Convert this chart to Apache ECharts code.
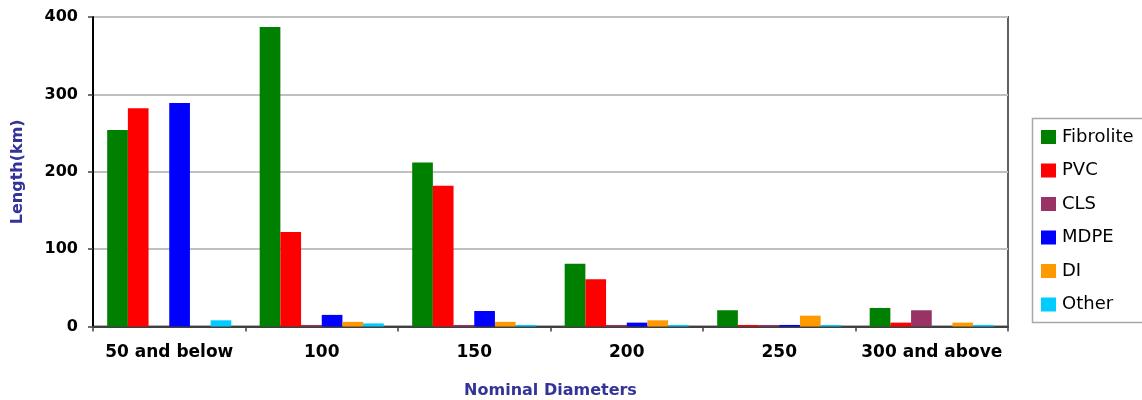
<!DOCTYPE html>
<html>
<head>
<meta charset="utf-8">
<script src="https://cdn.jsdelivr.net/npm/echarts@6/dist/echarts.min.js"></script>
<style>
html,body{margin:0;padding:0;background:#fff;}
#chart{width:1142px;height:400px;}
</style>
</head>
<body>
<div id="chart"></div>
<script>
const categories = ['50 and below', '100', '150', '200', '250', '300 and above'];
const seriesNames = ['Fibrolite', 'PVC', 'CLS', 'MDPE', 'DI', 'Other'];
const fibrolite = [254, 387, 212, 81, 21, 24];
const pvc = [282, 122, 182, 61, 2, 5];
const cls = [0, 2, 2, 2, 2, 21];
const mdpe = [289, 15, 20, 5, 2, 0];
const di = [0, 6, 6, 8, 14, 5];
const other = [8, 4, 2, 2, 2, 2];
const yTicks = { min: 0, max: 400, interval: 100 };
const colors = ['#008000', '#FF0000', '#993366', '#0000FF', '#FF9900', '#00CCFF'];

const values = [fibrolite, pvc, cls, mdpe, di, other];
const FONT = '"DejaVu Sans", sans-serif';

const chart = echarts.init(document.getElementById('chart'), null, { renderer: 'canvas' });
chart.setOption({
  animation: false,
  backgroundColor: '#ffffff',
  color: colors,
  grid: {
    left: 93, right: 134, top: 17, bottom: 73.5,
    containLabel: false,
    outerBoundsMode: 'none',
    show: true, borderColor: '#606060', borderWidth: 2, backgroundColor: 'transparent'
  },
  graphic: [{
    type: 'rect',
    shape: { x: 1032.5, y: 118.5, width: 130, height: 204 },
    style: { fill: '#ffffff', stroke: '#a8a8a8', lineWidth: 1.5 },
    z: 0
  }],
  legend: {
    orient: 'vertical',
    left: 1041, top: 128,
    padding: 0,
    itemWidth: 15, itemHeight: 14, itemGap: 15.5,
    icon: 'rect',
    data: seriesNames,
    textStyle: { fontFamily: FONT, fontSize: 18, color: '#000', padding: [0, 0, 0, 1] },
    z: 5
  },
  xAxis: {
    type: 'category',
    data: categories,
    name: 'Nominal Diameters',
    nameLocation: 'middle',
    nameGap: 56,
    nameTextStyle: { fontFamily: FONT, fontSize: 16, fontWeight: 'bold', color: '#333399' },
    axisLine: { lineStyle: { color: '#404040', width: 2 } },
    axisTick: { show: true, alignWithLabel: false, length: 5, lineStyle: { color: '#404040', width: 1.5 } },
    axisLabel: { fontFamily: FONT, fontSize: 17, fontWeight: 'bold', color: '#000', margin: 18, interval: 0 },
    splitLine: { show: false }
  },
  yAxis: {
    type: 'value',
    min: yTicks.min, max: yTicks.max, interval: yTicks.interval,
    name: 'Length(km)',
    nameLocation: 'middle',
    nameGap: 67,
    nameRotate: 90,
    nameTextStyle: { fontFamily: FONT, fontSize: 16, fontWeight: 'bold', color: '#333399' },
    axisLine: { show: true, lineStyle: { color: '#000', width: 2 } },
    axisTick: { show: true, length: 5, lineStyle: { color: '#404040', width: 1.5 } },
    axisLabel: { fontFamily: FONT, fontSize: 16, fontWeight: 'bold', color: '#000', margin: 15 },
    splitLine: { show: true, lineStyle: { color: '#c0c0c0', width: 2 } }
  },
  series: seriesNames.map((name, i) => ({
    name: name,
    type: 'bar',
    data: values[i],
    barGap: '0%',
    barCategoryGap: '18.6%',
    itemStyle: { color: colors[i] }
  }))
});
</script>
</body>
</html>
